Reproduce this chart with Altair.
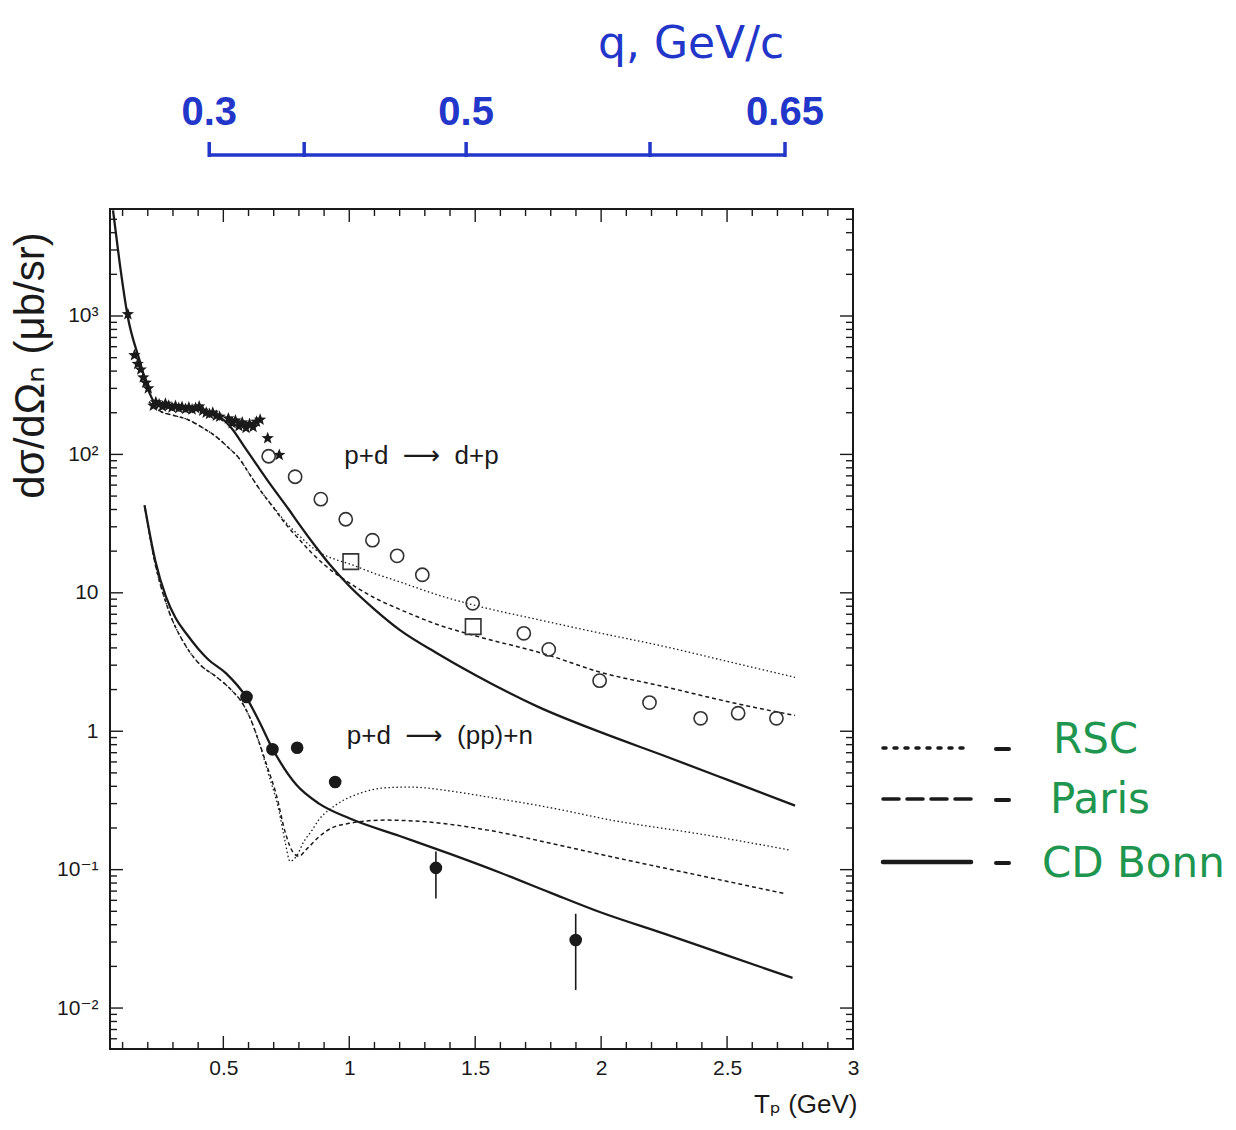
import altair as alt
import pandas as pd

# ---------------------------------------------------------------
# pd -> dp (elastic, backward) and pd -> (pp)n (breakup) cross sections
# versus proton beam energy T_p (GeV); values in microbarn / sr
# ---------------------------------------------------------------

# Elastic p+d -> d+p : theory curves
el_bonn_T = [0.062, 0.088, 0.12, 0.167, 0.207, 0.235, 0.306, 0.405, 0.464, 0.492, 0.532, 0.583,
             0.635, 0.689, 0.76, 0.80, 0.867, 0.92, 1.0, 1.1, 1.2, 1.35, 1.5, 1.75, 2.0, 2.25, 2.5, 2.77]
el_bonn_xs = [5800, 2450, 1000, 480, 277, 228, 216, 209, 193, 183, 155, 114,
              83, 60, 40, 31.5, 21.5, 16.2, 11.2, 7.6, 5.4, 3.65, 2.55, 1.5, 0.98, 0.665, 0.447, 0.29]

el_paris_T = [0.205, 0.25, 0.3, 0.36, 0.42, 0.47, 0.52, 0.56, 0.6, 0.65, 0.7, 0.75, 0.8, 0.85, 0.9,
              1.0, 1.1, 1.2, 1.356, 1.49, 1.79, 1.99, 2.25, 2.54, 2.77]
el_paris_xs = [240, 205, 192, 178, 155, 135, 112, 95, 74, 54, 41, 31, 24.5, 19.5, 16.0,
               11.8, 9.2, 7.6, 5.85, 4.95, 3.55, 2.69, 2.1, 1.58, 1.3]

el_rsc_T = [0.205, 0.25, 0.3, 0.36, 0.42, 0.47, 0.52, 0.56, 0.6, 0.65, 0.7, 0.75, 0.8, 0.85, 0.9,
            0.95, 1.0, 1.1, 1.2, 1.356, 1.49, 1.75, 2.0, 2.25, 2.5, 2.77]
el_rsc_xs = [240, 205, 192, 178, 155, 135, 112, 95, 74, 54, 41.5, 32, 26, 21.5, 18.8,
             17.3, 16.2, 13.8, 12.0, 9.6, 8.2, 6.4, 5.1, 4.1, 3.2, 2.45]

# Breakup p+d -> (pp)+n : theory curves
bu_bonn_T = [0.187, 0.23, 0.272, 0.31, 0.352, 0.4, 0.44, 0.511, 0.59, 0.64, 0.695, 0.79, 0.88,
             1.0, 1.2, 1.4, 1.6, 1.8, 2.0, 2.25, 2.5, 2.76]
bu_bonn_xs = [43, 17, 9.4, 6.6, 5.1, 3.95, 3.3, 2.62, 1.77, 1.2, 0.75, 0.41, 0.30,
              0.235, 0.175, 0.13, 0.095, 0.068, 0.049, 0.0345, 0.024, 0.0165]

bu_paris_T = [0.19, 0.23, 0.273, 0.352, 0.41, 0.471, 0.53, 0.575, 0.61, 0.643, 0.675, 0.708, 0.748,
              0.775, 0.80, 0.83, 0.88, 0.93, 1.0, 1.14, 1.3, 1.55, 1.8, 2.04, 2.4, 2.73]
bu_paris_xs = [40, 16, 8.4, 4.1, 3.0, 2.48, 2.0, 1.6, 1.2, 0.82, 0.55, 0.36, 0.18,
               0.135, 0.125, 0.14, 0.173, 0.2, 0.216, 0.228, 0.222, 0.193, 0.155, 0.124, 0.09, 0.067]

bu_rsc_T = [0.19, 0.23, 0.273, 0.352, 0.41, 0.471, 0.53, 0.575, 0.61, 0.643, 0.675, 0.72, 0.745,
            0.765, 0.79, 0.82, 0.85, 0.88, 0.943, 1.05, 1.14, 1.24, 1.4, 1.55, 1.8, 2.04, 2.4, 2.745]
bu_rsc_xs = [40, 16, 8.4, 4.1, 3.0, 2.48, 2.0, 1.6, 1.2, 0.82, 0.52, 0.27, 0.16,
             0.115, 0.125, 0.16, 0.19, 0.23, 0.29, 0.36, 0.39, 0.395, 0.37, 0.335, 0.28, 0.228, 0.18, 0.139]

# Experimental data, elastic channel
star_T = [0.121, 0.147, 0.16, 0.172, 0.182, 0.192, 0.202, 0.222, 0.232, 0.245, 0.258, 0.27, 0.283,
          0.296, 0.31, 0.323, 0.336, 0.35, 0.363, 0.376, 0.39, 0.404, 0.418, 0.432, 0.445, 0.458,
          0.472, 0.485, 0.52, 0.535, 0.548, 0.562, 0.575, 0.59, 0.604, 0.618, 0.632, 0.646, 0.676, 0.722]
star_xs = [1030, 520, 450, 410, 360, 330, 300, 225, 238, 230, 222, 232, 225,
           218, 224, 216, 220, 213, 218, 211, 216, 222, 207, 200, 196, 200,
           190, 187, 182, 168, 176, 160, 170, 155, 166, 158, 172, 178, 131, 99]

circle_T = [0.68, 0.785, 0.887, 0.986, 1.092, 1.19, 1.29, 1.49, 1.693, 1.792, 1.994, 2.192, 2.395, 2.544, 2.696]
circle_xs = [97, 69, 47.5, 34, 24, 18.5, 13.5, 8.4, 5.1, 3.9, 2.32, 1.61, 1.24, 1.35, 1.24]

square_T = [1.006, 1.492]
square_xs = [16.8, 5.7]

# Experimental data, breakup channel
dot_T = [0.592, 0.695, 0.793, 0.944, 1.344, 1.899]
dot_xs = [1.77, 0.74, 0.76, 0.43, 0.103, 0.031]
err_T = [1.344, 1.899]
err_lo = [0.062, 0.0135]
err_hi = [0.135, 0.048]

# Reaction labels (non-breaking spaces keep the gaps around the arrow)
GAP = "\u00a0\u00a0"
reac_text = ["p+d" + GAP + "\u27f6" + GAP + "d+p", "p+d" + GAP + "\u27f6" + GAP + "(pp)+n"]
reac_T = [0.98, 0.99]
reac_xs = [97, 0.92]

# Momentum transfer scale q (GeV/c) placed against T_p
q_vals = [0.3, 0.4, 0.5, 0.6, 0.65]
q_T = [0.444, 0.821, 1.464, 2.194, 2.73]
q_labels = ["0.3", "", "0.5", "", "0.65"]

# Potential models
models = ["RSC", "Paris", "CD Bonn"]

# Axis ticks
x_major = [0.5, 1.0, 1.5, 2.0, 2.5, 3.0]
x_minor = [round(0.1 * k, 1) for k in range(1, 30) if k % 5 != 0]
Y_DOM = [5.06e-3, 5930]
y_major = [1e-2, 1e-1, 1, 10, 100, 1000]
y_minor = [k * 10.0 ** e for e in range(-3, 4) for k in range(2, 10)
           if Y_DOM[0] <= k * 10.0 ** e <= Y_DOM[1]]

# ---------------------------------------------------------------
W, H = 743, 840
FONT = "Liberation Sans, DejaVu Sans"
HAND = "DejaVu Sans"
BLUE = "#2236c9"
GREEN = "#1e9650"
INK = "#1a1a1a"

xs = alt.Scale(domain=[0.05, 3.0], nice=False, zero=False)
ys = alt.Scale(type="log", domain=Y_DOM, nice=False)

STAR = ("M0,-1L0.247,-0.34L0.951,-0.309L0.399,0.13L0.588,0.809L0,0.42"
        "L-0.588,0.809L-0.399,0.13L-0.951,-0.309L-0.247,-0.34Z")

DASH = {"RSC": [1.5, 2.5], "Paris": [4, 3]}
WIDTH = {"RSC": 1.3, "Paris": 1.5, "CD Bonn": 2.3}


def xenc(field="T"):
    return alt.X(f"{field}:Q", scale=xs, axis=None)


def yenc(field="v"):
    return alt.Y(f"{field}:Q", scale=ys, axis=None)


def curve(T, v, model):
    kw = dict(strokeWidth=WIDTH[model], color=INK, interpolate="monotone", clip=True)
    if model in DASH:
        kw["strokeDash"] = DASH[model]
    return alt.Chart(pd.DataFrame({"T": T, "v": v})).mark_line(**kw).encode(x=xenc(), y=yenc())


layers = []

# Axis labels and titles (ticks are drawn inward as rules below)
axis_df = pd.DataFrame({"T": circle_T, "v": circle_xs})
axes = alt.Chart(axis_df).mark_point(opacity=0).encode(
    x=alt.X("T:Q", scale=xs, axis=alt.Axis(
        values=x_major, format="~g", domain=False, ticks=False, tickSize=0, grid=False,
        labelFont=FONT, labelFontSize=21, labelColor=INK, labelPadding=8,
        labelFlush=False, labelOverlap=False,
        title="T\u209a (GeV)", titleFont=FONT, titleFontSize=26, titleFontWeight="normal",
        titleColor=INK, titleAnchor="end", titleAlign="right", titleBaseline="middle",
        titleX=W + 4, titleY=55)),
    y=alt.Y("v:Q", scale=ys, axis=alt.Axis(
        values=y_major, domain=False, ticks=False, tickSize=0, grid=False,
        labelExpr=("datum.value < 0.05 ? '10\u207b\u00b2' : datum.value < 0.5 ? '10\u207b\u00b9' : "
                   "datum.value < 5 ? '1' : datum.value < 50 ? '10' : "
                   "datum.value < 500 ? '10\u00b2' : '10\u00b3'"),
        labelFont=FONT, labelFontSize=21, labelColor=INK, labelPadding=12,
        labelFlush=False, labelOverlap=False,
        title="d\u03c3/d\u03a9\u2099 (\u03bcb/sr)", titleFont=FONT, titleFontSize=42,
        titleFontWeight="normal", titleColor=INK, titleAngle=270,
        titleAlign="center", titleBaseline="middle", titleX=-80, titleY=156)),
)
layers.append(axes)

# Inward frame ticks
def tick_layer(vals, side, length):
    df = pd.DataFrame({"t": vals})
    m = alt.Chart(df).mark_rule(color=INK, strokeWidth=1.4)
    if side == "bottom":
        return m.encode(x=xenc("t"), y=alt.value(H), y2=alt.value(H - length))
    if side == "top":
        return m.encode(x=xenc("t"), y=alt.value(0), y2=alt.value(length))
    if side == "left":
        return m.encode(y=yenc("t"), x=alt.value(0), x2=alt.value(length))
    return m.encode(y=yenc("t"), x=alt.value(W), x2=alt.value(W - length))


for side in ["bottom", "top"]:
    layers.append(tick_layer(x_major, side, 13))
    layers.append(tick_layer(x_minor, side, 7))
for side in ["left", "right"]:
    layers.append(tick_layer(y_major, side, 13))
    layers.append(tick_layer(y_minor, side, 7))

# Theory curves
layers += [
    curve(el_rsc_T, el_rsc_xs, "RSC"),
    curve(el_paris_T, el_paris_xs, "Paris"),
    curve(el_bonn_T, el_bonn_xs, "CD Bonn"),
    curve(bu_rsc_T, bu_rsc_xs, "RSC"),
    curve(bu_paris_T, bu_paris_xs, "Paris"),
    curve(bu_bonn_T, bu_bonn_xs, "CD Bonn"),
]

# Data points
layers.append(alt.Chart(pd.DataFrame({"T": star_T, "v": star_xs})).mark_point(
    shape=STAR, filled=True, color=INK, size=170, opacity=1).encode(x=xenc(), y=yenc()))
layers.append(alt.Chart(pd.DataFrame({"T": circle_T, "v": circle_xs})).mark_point(
    shape="circle", filled=False, color="#333333", size=175, strokeWidth=1.6, opacity=1).encode(x=xenc(), y=yenc()))
layers.append(alt.Chart(pd.DataFrame({"T": square_T, "v": square_xs})).mark_point(
    shape="square", filled=False, color="#333333", size=240, strokeWidth=1.6, opacity=1).encode(x=xenc(), y=yenc()))
layers.append(alt.Chart(pd.DataFrame({"T": err_T, "lo": err_lo, "hi": err_hi})).mark_rule(
    color=INK, strokeWidth=1.6).encode(x=xenc(), y=yenc("lo"), y2="hi:Q"))
layers.append(alt.Chart(pd.DataFrame({"T": dot_T, "v": dot_xs})).mark_point(
    shape="circle", filled=True, color=INK, size=160, opacity=1).encode(x=xenc(), y=yenc()))

# Reaction labels
layers.append(alt.Chart(pd.DataFrame({"T": reac_T, "v": reac_xs, "s": reac_text})).mark_text(
    align="left", baseline="middle", font=FONT, fontSize=26, color=INK).encode(
    x=xenc(), y=yenc(), text="s:N"))

# q scale drawn above the frame
qdf = pd.DataFrame({"T": q_T, "q": q_vals, "lab": q_labels})
layers.append(alt.Chart(pd.DataFrame({"a": [q_T[0]], "b": [q_T[-1]]})).mark_rule(
    color=BLUE, strokeWidth=3.5).encode(x=xenc("a"), x2="b:Q", y=alt.value(-54)))
layers.append(alt.Chart(qdf).mark_rule(color=BLUE, strokeWidth=3.5).encode(
    x=xenc(), y=alt.value(-67), y2=alt.value(-52)))
layers.append(alt.Chart(qdf).mark_text(
    font=FONT, fontSize=40, fontWeight="bold", color=BLUE, align="center", baseline="middle").encode(
    x=xenc(), y=alt.value(-96), text="lab:N"))
layers.append(alt.Chart(pd.DataFrame({"s": ["q, GeV/c"]})).mark_text(
    font=HAND, fontSize=44, color=BLUE, align="left", baseline="middle").encode(
    x=alt.value(488), y=alt.value(-164), text="s:N"))

# Hand-drawn model key to the right of the frame
key_line_y = [539, 590, 653]
key_text_y = [544, 604, 668]
key_text_x = [943, 940, 932]
key_dash = {"RSC": [3, 8], "Paris": [16, 8]}
for i, name in enumerate(models):
    one = pd.DataFrame({"s": [name]})
    kw = dict(color=INK, strokeWidth=3.5 if name != "CD Bonn" else 4.5, strokeCap="round")
    if name in key_dash:
        kw["strokeDash"] = key_dash[name]
    layers.append(alt.Chart(one).mark_rule(**kw).encode(
        x=alt.value(773), x2=alt.value(861), y=alt.value(key_line_y[i])))
    layers.append(alt.Chart(one).mark_rule(color=INK, strokeWidth=4, strokeCap="round").encode(
        x=alt.value(886), x2=alt.value(899), y=alt.value(key_line_y[i] + 1)))
    layers.append(alt.Chart(one).mark_text(
        font=HAND, fontSize=42, color=GREEN, align="left", baseline="alphabetic").encode(
        x=alt.value(key_text_x[i]), y=alt.value(key_text_y[i]), text="s:N"))

chart = alt.layer(*layers).resolve_axis(x="independent", y="independent").properties(
    width=W, height=H,
    padding={"left": 110, "top": 209, "right": 383, "bottom": 81},
    autosize=alt.AutoSizeParams(type="none"),
    background="white",
).configure_view(stroke=INK, strokeWidth=2)

chart.save("out.html", embed_options={"renderer": "svg", "actions": False})
